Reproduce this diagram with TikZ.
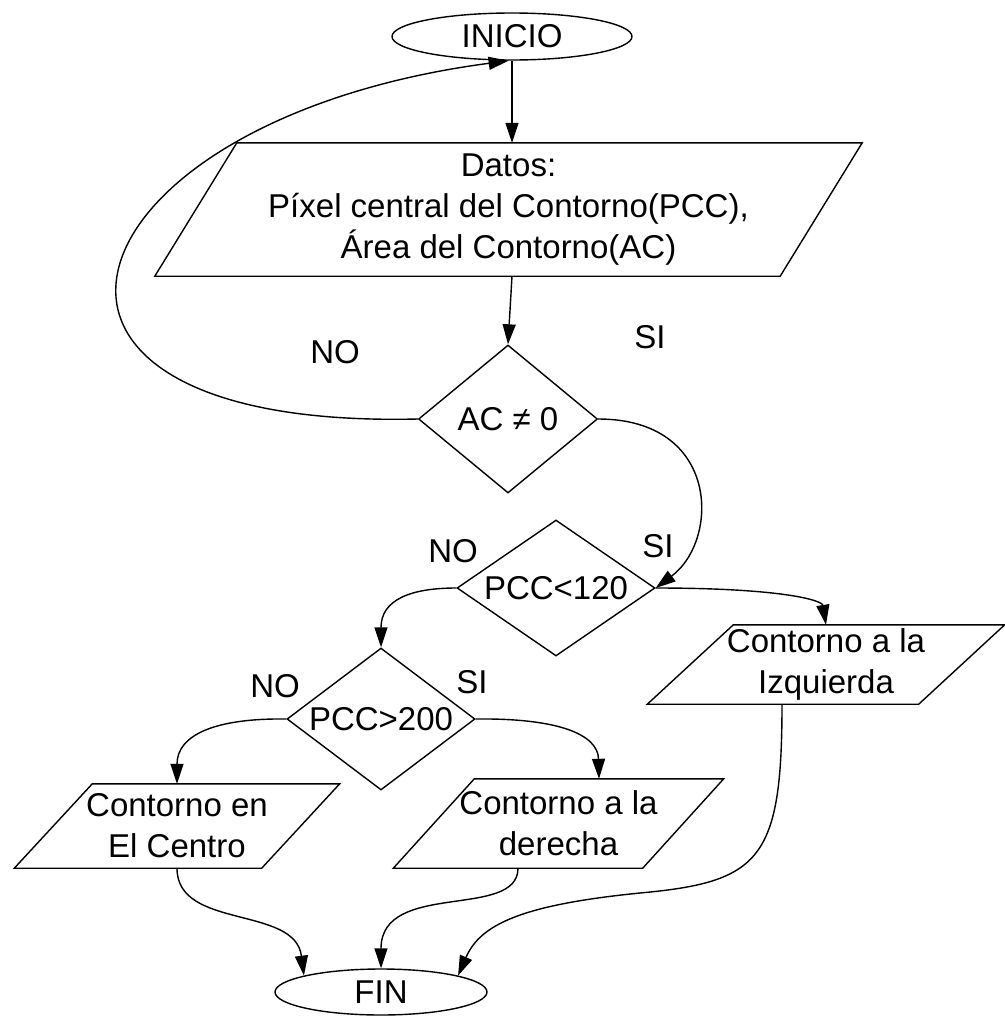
\documentclass[tikz,border=0pt]{standalone}
\usepackage{fontspec}
\setmainfont{Liberation Sans}
\usetikzlibrary{shapes.geometric,arrows.meta}
\begin{document}
\begin{tikzpicture}[x=1pt,y=-1pt,
  every node/.style={font=\fontsize{33}{41}\selectfont, text=black},
  ln/.style={line width=1.4pt, draw=black},
  arr/.style={ln, -{Triangle[length=20pt,width=13pt]}},
  term/.style={ln, shape=ellipse, inner sep=0pt},
  dec/.style={ln, shape=diamond, inner sep=0pt},
  io/.style={draw=none, shape=rectangle, inner sep=0pt, align=center},
  lbl/.style={inner sep=0pt}
]
\useasboundingbox (0,0) rectangle (1004,1020);

% terminals
\node[term, minimum width=240pt, minimum height=47pt] (inicio) at (512,36.5) {INICIO};
\node[term, minimum width=212pt, minimum height=46pt] (fin) at (381,992) {FIN};

% data parallelogram
\node[io, minimum width=625pt, minimum height=133pt] (datos) at (508.5,209.5)
  {Datos:\\Píxel central del Contorno(PCC),\\Área del Contorno(AC)};
\draw[ln] ([xshift=-41pt]datos.south west) -- ([xshift=41pt]datos.north west)
  -- ([xshift=41pt]datos.north east) -- ([xshift=-41pt]datos.south east) -- cycle;

% decisions
\node[dec, minimum width=179pt, minimum height=148pt] (ac) at (508,419) {\makebox[0pt]{AC ≠ 0}};
\node[dec, minimum width=198pt, minimum height=136pt] (p1) at (556,588) {\makebox[0pt]{PCC<120}};
\node[dec, minimum width=188pt, minimum height=142pt] (p2) at (381,719) {\makebox[0pt]{PCC>200}};

% outputs
\node[io, minimum width=271pt, minimum height=79pt] (izq) at (826,664.5) {Contorno a la\\Izquierda};
\draw[ln] ([xshift=-43pt]izq.south west) -- ([xshift=43pt]izq.north west)
  -- ([xshift=43pt]izq.north east) -- ([xshift=-43pt]izq.south east) -- cycle;

\node[io, minimum width=247pt, minimum height=84pt] (centro) at (177,826) {Contorno en\\El Centro};
\draw[ln] ([xshift=-39pt]centro.south west) -- ([xshift=39pt]centro.north west)
  -- ([xshift=39pt]centro.north east) -- ([xshift=-39pt]centro.south east) -- cycle;

\node[io, minimum width=249pt, minimum height=89pt] (der) at (558.5,823.5) {Contorno a la\\derecha};
\draw[ln] ([xshift=-40.5pt]der.south west) -- ([xshift=40.5pt]der.north west)
  -- ([xshift=40.5pt]der.north east) -- ([xshift=-40.5pt]der.south east) -- cycle;

% labels
\node[lbl] (no1) at (335,352) {NO};
\node[lbl] (si1) at (650,337) {SI};
\node[lbl] (no2) at (453,551) {NO};
\node[lbl] (si2) at (658,546) {SI};
\node[lbl] (no3) at (275,686) {NO};
\node[lbl] (si3) at (472,682) {SI};

% connectors
\draw[arr] (inicio.south) -- (inicio.south |- datos.north);
\draw[arr] (datos.south -| inicio.south) -- (ac.north);
\draw[arr] (ac.west) .. controls (-45,430) and (60,120) .. (inicio.262);
\draw[arr] (ac.east) .. controls (720,419) and (720,540) .. (p1.east);
\draw[arr] (p1.west) .. controls (410,588) and (381,600) .. (p2.north);
\draw[arr] (p1.east) .. controls (780,588) and (822,600) .. (izq.north);
\draw[arr] (p2.west) .. controls (215,718) and (177,735) .. (centro.north);
\draw[arr] (p2.east) .. controls (560,718) and (598,735) .. ([xshift=40.5pt]der.north);
\draw[arr] (centro.south) .. controls (177,930) and (295,905) .. (fin.168);
\draw[arr] ([xshift=-40.5pt]der.south) .. controls (518,920) and (381,880) .. (fin.north);
\draw[arr] ([xshift=-44pt]izq.south) .. controls (782,860) and (760,882) .. (640,893)
  .. controls (520,905) and (480,925) .. (fin.12);
\end{tikzpicture}
\end{document}
